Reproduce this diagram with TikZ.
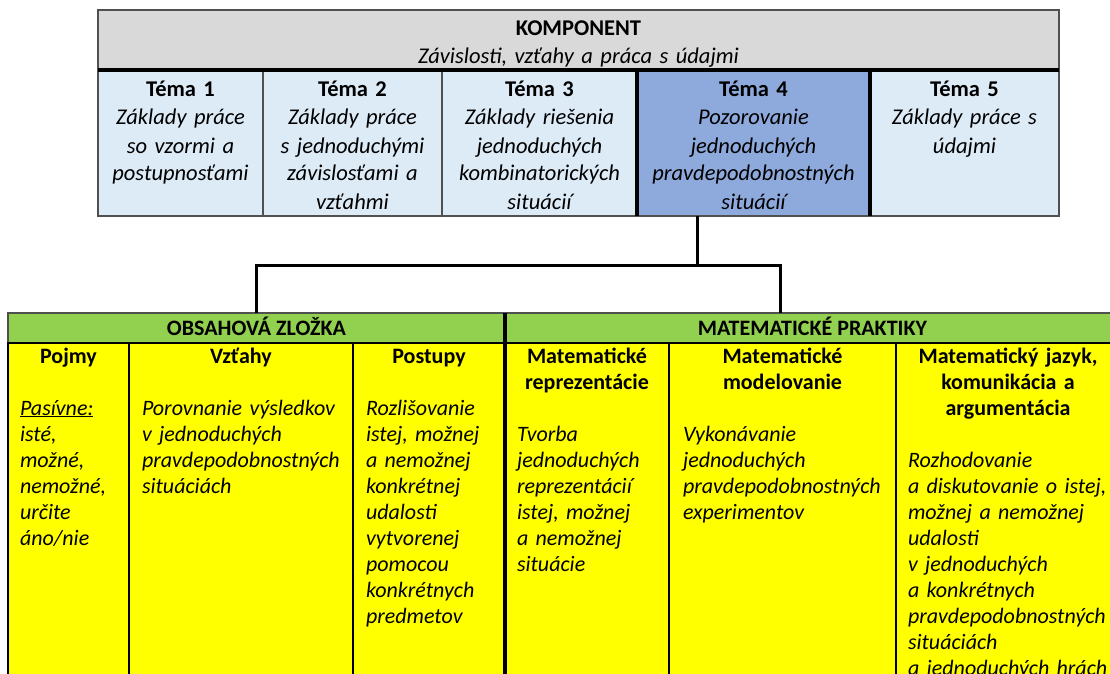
\documentclass[tikz,border=0pt]{standalone}
\usepackage{fontspec}
\setmainfont{Carlito}[ItalicFont=Carlito Italic, BoldFont=Carlito Bold, BoldItalicFont=Carlito Bold Italic]
\usetikzlibrary{positioning}

\definecolor{komgray}{HTML}{D9D9D9}
\definecolor{temablue}{HTML}{DDEBF7}
\definecolor{selblue}{HTML}{8EA9DB}
\definecolor{headgreen}{HTML}{92D050}
\definecolor{cellyellow}{HTML}{FFFF00}
\definecolor{frame}{HTML}{505050}

\begin{document}
\begin{tikzpicture}[x=1pt,y=-1pt,
    cell/.style={draw=frame, line width=1.2pt, anchor=north west, inner sep=0pt, outer sep=0pt},
    toptext/.style={anchor=base, inner sep=0pt, align=center, font=\fontsize{22.5}{28}\selectfont},
    lowtext/.style={anchor=base, inner sep=0pt, font=\fontsize{22}{26}\selectfont},
    thickline/.style={line width=4.5pt, black},
    link/.style={line width=3pt, black}]
    \useasboundingbox (0,0) rectangle (1110,674);
    % komponent
    \node[cell, fill=komgray, minimum width=961pt, minimum height=60pt] (kom) at (98,10) {};
    \node[toptext, text width=900pt] (komtxt) at ([yshift=-26pt]kom.north)
        {\textbf{KOMPONENT}\\ \textit{Závislosti, vzťahy a práca s údajmi}};
    % temy
    \node[cell, fill=temablue, minimum width=165pt, minimum height=146pt] (t1) at (98,70) {};
    \node[cell, fill=temablue, minimum width=179pt, minimum height=146pt] (t2) at (263,70) {};
    \node[cell, fill=temablue, minimum width=195pt, minimum height=146pt] (t3) at (442,70) {};
    \node[cell, fill=selblue, minimum width=233pt, minimum height=146pt] (t4) at (637,70) {};
    \node[cell, fill=temablue, minimum width=189pt, minimum height=146pt] (t5) at (870,70) {};
    \node[toptext, text width=160pt] (t1txt) at ([yshift=-27pt]t1.north)
        {\textbf{Téma 1}\\ \itshape Základy práce\\ so vzormi a\\ postupnosťami};
    \node[toptext, text width=170pt] (t2txt) at ([yshift=-27pt]t2.north)
        {\textbf{Téma 2}\\ \itshape Základy práce\\ s jednoduchými\\ závislosťami a\\ vzťahmi};
    \node[toptext, text width=185pt] (t3txt) at ([yshift=-27pt]t3.north)
        {\textbf{Téma 3}\\ \itshape Základy riešenia\\ jednoduchých\\ kombinatorických\\ situácií};
    \node[toptext, text width=225pt] (t4txt) at ([yshift=-27pt]t4.north)
        {\textbf{Téma 4}\\ \itshape Pozorovanie\\ jednoduchých\\ pravdepodobnostných\\ situácií};
    \node[toptext, text width=180pt] (t5txt) at ([yshift=-27pt]t5.north)
        {\textbf{Téma 5}\\ \itshape Základy práce s\\ údajmi};
    \draw[thickline] (kom.south west) -- (kom.south east);
    \draw[thickline] (t4.north west) -- (t4.south west);
    \draw[thickline] (t4.north east) -- (t4.south east);

    % zlozky
    \node[cell, fill=headgreen, minimum width=497pt, minimum height=30pt] (obs) at (8,313) {};
    \node[cell, fill=headgreen, minimum width=615pt, minimum height=30pt] (mat) at (505,313) {};
    \node[lowtext] (obstxt) at ([yshift=-22pt]obs.north) {\textbf{OBSAHOVÁ ZLOŽKA}};
    \node[lowtext] (mattxt) at ([yshift=-22pt]mat.north) {\textbf{MATEMATICKÉ PRAKTIKY}};
    \begin{scope}[cell/.append style={draw=black, fill=cellyellow, minimum height=350pt}]
        \node[cell, minimum width=121pt] (pojmy) at (8,343) {};
        \node[cell, minimum width=224pt] (vztahy) at (129,343) {};
        \node[cell, minimum width=152pt] (postupy) at (353,343) {};
        \node[cell, minimum width=164pt] (repr) at (505,343) {};
        \node[cell, minimum width=227pt] (model) at (669,343) {};
        \node[cell, minimum width=224pt] (jazyk) at (896,343) {};
    \end{scope}
    \node[lowtext, text width=97pt] (pojmytxt) at ([yshift=-20pt]pojmy.north)
        {\centering\textbf{Pojmy}\par\vspace{26pt}\raggedright\itshape
         \underline{Pasívne:}\\ isté,\\ možné,\\ nemožné,\\ určite\\ áno/nie\par};
    \node[lowtext, text width=198pt] (vztahytxt) at ([yshift=-20pt]vztahy.north)
        {\centering\textbf{Vzťahy}\par\vspace{26pt}\raggedright\itshape
         Porovnanie výsledkov\\ v~jednoduchých\\ pravdepodobnostných\\ situáciách\par};
    \node[lowtext, text width=126pt] (postupytxt) at ([yshift=-20pt]postupy.north)
        {\centering\textbf{Postupy}\par\vspace{26pt}\raggedright\itshape
         Rozlišovanie\\ istej, možnej\\ a~nemožnej\\ konkrétnej\\ udalosti\\ vytvorenej\\ pomocou\\ konkrétnych\\ predmetov\par};
    \node[lowtext, text width=140pt] (reprtxt) at ([yshift=-20pt]repr.north)
        {\centering\textbf{Matematické\\ reprezentácie}\par\vspace{26pt}\raggedright\itshape
         Tvorba\\ jednoduchých\\ reprezentácií\\ istej, možnej\\ a~nemožnej\\ situácie\par};
    \node[lowtext, text width=199pt] (modeltxt) at ([yshift=-20pt]model.north)
        {\centering\textbf{Matematické\\ modelovanie}\par\vspace{26pt}\raggedright\itshape
         Vykonávanie\\ jednoduchých\\ pravdepodobnostných\\ experimentov\par};
    \node[lowtext, text width=200pt] (jazyktxt) at ([yshift=-20pt]jazyk.north)
        {\centering\textbf{Matematický jazyk,\\ komunikácia a\\ argumentácia}\par\vspace{26pt}\raggedright\itshape
         Rozhodovanie\\ a~diskutovanie o~istej,\\ možnej a~nemožnej\\ udalosti\\ v~jednoduchých\\ a~konkrétnych\\ pravdepodobnostných\\ situáciách\\ a~jednoduchých hrách\par};
    \draw[thickline] (obs.north east) -- (obs.north east |- pojmy.south);

    % spojnice
    \coordinate (hub) at (697,265);
    \coordinate (matin) at (780,313);
    \draw[link] ([xshift=-56.5pt]t4.south) -- (hub);
    \draw[link] (obs.north) |- (hub) -| (matin);
\end{tikzpicture}
\end{document}
